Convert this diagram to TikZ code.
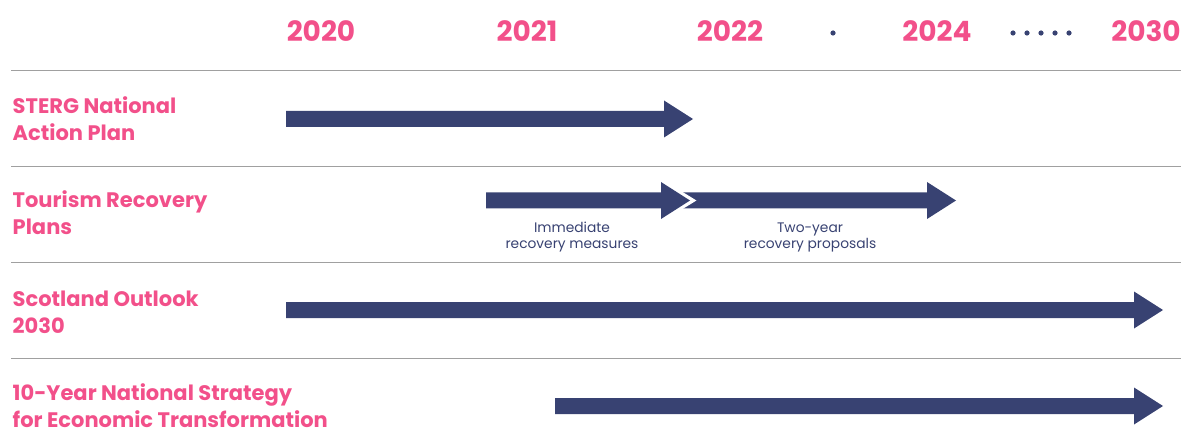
\documentclass[tikz,border=0pt]{standalone}
\usepackage{fontspec}
\setmainfont{Poppins}
\usetikzlibrary{positioning,calc}

\definecolor{stpink}{HTML}{F2508A}
\definecolor{stnavy}{HTML}{384272}
\definecolor{stgrey}{HTML}{A0A0A0}

\tikzset{
  year/.style={font=\fontsize{28}{30}\selectfont\bfseries, text=stpink, anchor=base, inner sep=0},
  plan/.style={font=\fontsize{21}{27}\selectfont\bfseries, text=stpink, anchor=base west, align=left, inner sep=0},
  note/.style={font=\fontsize{13.8}{16}\selectfont, text=stnavy, align=center, anchor=base, inner sep=0},
  rowrule/.style={stgrey, line width=1.4pt},
}

% block arrow: start x, tip x, centre y
\newcommand{\planarrow}[3]{%
  \fill[stnavy] (#1,#3-8) -- (#2-29,#3-8) -- (#2-29,#3-18.5) -- (#2,#3)
    -- (#2-29,#3+18.5) -- (#2-29,#3+8) -- (#1,#3+8) -- cycle;}

\begin{document}
\begin{tikzpicture}[x=1pt, y=-1pt]
    \useasboundingbox (0,0) rectangle (1182,446);

    % years along the top
    \node[year] (y2020) at (321,42) {2020};
    \node[year] (y2021) at (527,42) {2021};
    \node[year] (y2022) at (730,42) {2022};
    \node[year] (y2024) at (937,42) {2024};
    \node[year] (y2030) at (1146,42) {2030};
    \fill[stnavy] (833,33) circle (2.6);
    \foreach \dx in {1013,1027,1041,1055,1069}
        \fill[stnavy] (\dx,33) circle (2.6);

    % row separators
    \foreach \ry in {70.5,166.5,262.5,358.5}
        \draw[rowrule] (11,\ry) -- (1181,\ry);

    % plan names (anchored on the last line)
    \node[plan] (sterg) at (12.5,141) {STERG National\\Action Plan};
    \node[plan] (tourism) at (12.5,235) {Tourism Recovery\\Plans};
    \node[plan] (outlook) at (12.5,333) {Scotland Outlook\\2030};
    \node[plan] (strategy) at (12.5,427) {10-Year National Strategy\\for Economic Transformation};

    % time spans
    \planarrow{286}{693}{119}
    \planarrow{486}{690}{200.5}
    \fill[stnavy] (682,192.5) -- (927,192.5) -- (927,182) -- (956,200.5)
        -- (927,219) -- (927,208.5) -- (682,208.5) -- (695,200.5) -- cycle;
    \draw[white, line width=1.5pt] (682,192.5) -- (695,200.5) -- (682,208.5);
    \planarrow{286}{1163}{310}
    \planarrow{555}{1163}{406}

    \node[note] (immediate) at (572,248) {Immediate\\recovery measures};
    \node[note] (twoyear) at (810,248) {Two-year\\recovery proposals};
\end{tikzpicture}
\end{document}
